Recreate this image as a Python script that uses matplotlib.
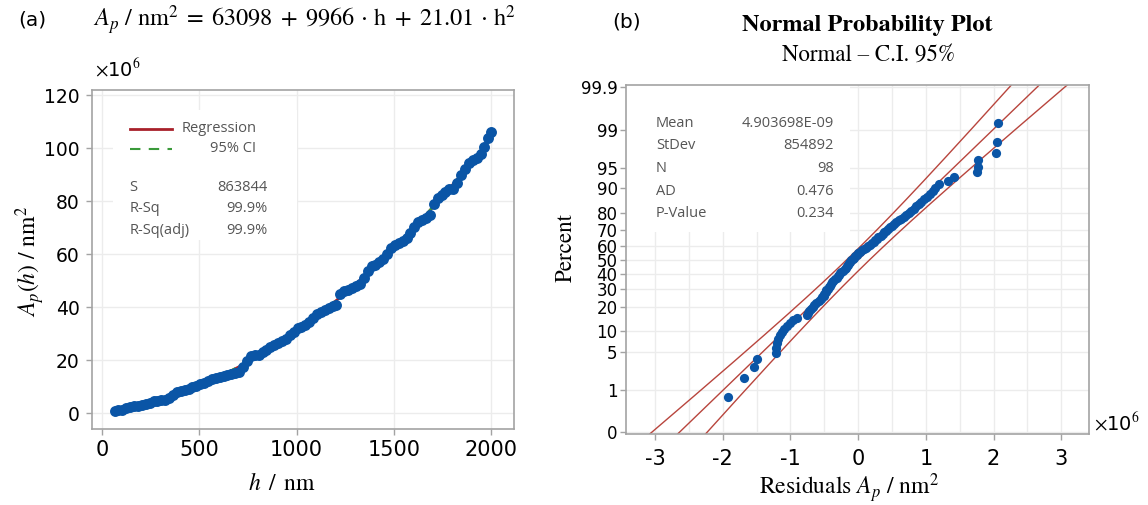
import numpy as np
import matplotlib
matplotlib.use("Agg")
import matplotlib.pyplot as plt
from matplotlib.patches import Rectangle
from statistics import NormalDist

plt.rcParams["font.family"] = ["DejaVu Sans"]
plt.rcParams["mathtext.fontset"] = "stix"
plt.rcParams["axes.unicode_minus"] = False

# (a) indentation depth h (nm) vs projected area A_p (x10^6 nm^2)
h_nm = [65, 85, 105, 125, 145, 165, 185, 205, 225, 245,
        265, 285, 305, 325, 345, 365, 385, 405, 425, 445,
        465, 485, 505, 525, 545, 565, 585, 605, 625, 645,
        665, 685, 705, 725, 745, 765, 785, 805, 825, 845,
        865, 885, 905, 925, 945, 965, 985, 1005, 1025, 1045,
        1065, 1085, 1105, 1125, 1145, 1165, 1185, 1205, 1225, 1245,
        1265, 1285, 1305, 1325, 1345, 1365, 1385, 1405, 1425, 1445,
        1465, 1485, 1505, 1525, 1545, 1565, 1585, 1605, 1625, 1645,
        1665, 1685, 1705, 1725, 1745, 1765, 1785, 1805, 1825, 1845,
        1865, 1885, 1905, 1925, 1945, 1965, 1985, 2000]
area = [0.80, 1.26, 1.24, 1.94, 2.15, 2.68, 2.73, 2.99, 3.27, 3.87,
        4.48, 4.61, 4.86, 5.12, 5.70, 6.70, 8.01, 8.45, 8.69, 9.06,
        9.84, 10.14, 10.95, 11.49, 11.94, 12.90, 13.08, 13.48, 13.90, 14.33,
        14.78, 15.25, 15.63, 17.53, 19.75, 21.38, 21.93, 22.00, 23.08, 23.69,
        25.00, 25.74, 26.59, 27.26, 27.94, 29.45, 30.76, 32.00, 32.65, 33.42,
        34.31, 36.01, 37.33, 38.17, 39.02, 39.59, 40.28, 40.98, 44.90, 45.94,
        46.59, 47.16, 47.85, 48.85, 50.87, 53.71, 55.37, 56.04, 57.13, 58.03,
        60.16, 62.40, 63.65, 64.22, 64.91, 66.02, 68.14, 70.38, 72.34, 72.91,
        73.70, 74.91, 78.93, 81.27, 82.43, 83.50, 84.50, 84.60, 87.03, 89.77,
        92.23, 94.30, 95.49, 96.50, 97.83, 100.37, 103.93, 106.03]
coef = [21.01, 9966, 63098]      # h^2, h, const (nm^2)
fit_stats = [("S", "863844"), ("R-Sq", "99.9%"), ("R-Sq(adj)", "99.9%")]

# (b) residuals (x10^6 nm^2), sorted
resid = [-1.92, -1.68, -1.54, -1.50, -1.22, -1.21, -1.20, -1.18, -1.16, -1.13,
         -1.10, -1.05, -1.01, -0.96, -0.91,
         -0.76, -0.74, -0.72, -0.69, -0.67, -0.65, -0.62, -0.58, -0.55,
         -0.53, -0.51, -0.50, -0.48, -0.47, -0.45, -0.43, -0.42, -0.40, -0.38, -0.37,
         -0.34, -0.32, -0.30, -0.28, -0.27, -0.25, -0.22, -0.20, -0.18, -0.17,
         -0.15, -0.13, -0.12, -0.10, -0.08, -0.06, -0.04, -0.02, 0.00, 0.03,
         0.06, 0.09, 0.12, 0.14, 0.17,
         0.20, 0.23, 0.25, 0.28, 0.30, 0.33, 0.36, 0.38, 0.41, 0.44,
         0.47, 0.50, 0.53, 0.56, 0.60, 0.63, 0.67, 0.71, 0.75, 0.78,
         0.82, 0.86, 0.90, 0.93, 0.97, 1.02, 1.06, 1.10, 1.14, 1.19,
         1.33, 1.42, 1.76, 1.77, 1.77, 2.03, 2.05, 2.07]
res_mean = 4.903698e-09
res_sd = 854892
res_n = 98
res_stats = [("Mean", "4.903698E-09"), ("StDev", "854892"), ("N", "98"),
             ("AD", "0.476"), ("P-Value", "0.234")]
pct_ticks = [0.1, 1, 5, 10, 20, 30, 40, 50, 60, 70, 80, 90, 95, 99, 99.9]
pct_labels = ["0", "1", "5", "10", "20", "30", "40", "50", "60", "70",
              "80", "90", "95", "99", "99.9"]

blue = "#0a55a6"
frame = "#a3a3a3"
gridc = "#ececec"
statc = "#555555"
serif = "STIXGeneral"
stat_font = "Open Sans"

W, H = 1148, 505
fig = plt.figure(figsize=(W / 100, H / 100), dpi=100)


def box(l, t, r, b):
    return [l / W, 1 - b / H, (r - l) / W, (b - t) / H]


def style(ax):
    for s in ax.spines.values():
        s.set_color(frame)
        s.set_linewidth(1.2)
    ax.grid(True, color=gridc, lw=1)
    ax.set_axisbelow(True)
    ax.tick_params(color=frame, length=4, width=1)


# ---- (a) ----
axa = fig.add_axes(box(92, 90, 514, 429))
style(axa)
hh = np.linspace(min(h_nm), max(h_nm), 300)
fit = np.polyval(coef, hh) / 1e6
axa.plot(hh, fit, color="#a8202a", lw=2, zorder=2)
axa.plot(hh, fit + 0.3, color="#3a9a3a", lw=1.2, ls=(0, (5, 4)), zorder=2)
axa.plot(hh, fit - 0.3, color="#3a9a3a", lw=1.2, ls=(0, (5, 4)), zorder=2)
axa.scatter(h_nm, area, s=62, color=blue, lw=0, zorder=3)
axa.set_xlim(-51, 2117)
axa.set_ylim(-6, 122)
axa.set_xticks([0, 500, 1000, 1500, 2000])
axa.set_yticks(range(0, 121, 20))
axa.tick_params(axis="x", labelsize=15, pad=4)
axa.tick_params(axis="y", labelsize=13.5, pad=5)

axa.add_patch(Rectangle((0.05, 0.557), 0.436, 0.384, transform=axa.transAxes,
                        facecolor="white", edgecolor="none", zorder=1.5))
axa.plot([0.09, 0.19], [0.885, 0.885], transform=axa.transAxes, color="#a8202a", lw=2, zorder=4)
axa.plot([0.09, 0.19], [0.826, 0.826], transform=axa.transAxes, color="#3a9a3a", lw=1.5,
         ls=(0, (5, 4)), zorder=4)
axa.text(0.389, 0.885, "Regression", transform=axa.transAxes, ha="right", va="center",
         fontsize=10.5, color=statc, family=stat_font)
axa.text(0.389, 0.826, "95% CI", transform=axa.transAxes, ha="right", va="center",
         fontsize=10.5, color=statc, family=stat_font)
for i, (k, v) in enumerate(fit_stats):
    y = 0.711 - i * 0.062
    axa.text(0.088, y, k, transform=axa.transAxes, va="center", fontsize=10.5,
             color=statc, family=stat_font)
    axa.text(0.417, y, v, transform=axa.transAxes, ha="right", va="center",
             fontsize=10.5, color=statc, family=stat_font)

fig.text(18 / W, 1 - 20 / H, "(a)", fontsize=14.5, va="center")
fig.text(93 / W, 1 - 20 / H,
         r"$A_p\ /\ \mathrm{nm}^2\;=\;63098\;+\;9966\,\cdot\,\mathrm{h}\;+\;21.01\,\cdot\,\mathrm{h}^2$",
         fontsize=17.5, va="center")
fig.text(95 / W, 1 - 69 / H, r"$\times$10$^6$", fontsize=14, va="center")
fig.text(282 / W, 1 - 483 / H, r"$h\ \,/\ \,\mathrm{nm}$", fontsize=17, ha="center", va="center")
fig.text(30 / W, 1 - 262 / H, r"$A_p(h)\ /\ \mathrm{nm}^2$", fontsize=17, ha="center",
         va="center", rotation=90)

# ---- (b) ----
axb = fig.add_axes(box(626, 85, 1089, 434))
style(axb)
nd = NormalDist()
z_pts = [nd.inv_cdf((i + 1 - 0.3) / (res_n + 0.4)) for i in range(res_n)]
zz = np.linspace(-3.3, 3.3, 200)
mu = res_mean / 1e6
sd = res_sd / 1e6
mid = mu + sd * zz
se = sd * np.sqrt(1 / res_n + zz ** 2 / (2 * (res_n - 1)))
for line in (mid - 1.96 * se, mid, mid + 1.96 * se):
    axb.plot(line, zz, color="#b8453d", lw=1, zorder=2)
axb.scatter(resid, z_pts, s=44, color=blue, lw=0, zorder=3)
axb.set_xlim(-3.43, 3.41)
axb.set_ylim(-3.12, 3.13)
axb.set_xticks(range(-3, 4))
axb.set_xticks(np.arange(-3.0, 3.1, 0.5), minor=True)
axb.grid(True, which="minor", axis="x", color=gridc, lw=1)
axb.tick_params(which="minor", length=0)
axb.set_yticks([nd.inv_cdf(p / 100) for p in pct_ticks])
axb.set_yticklabels(pct_labels)
axb.tick_params(axis="x", labelsize=15, pad=7)
axb.tick_params(axis="y", labelsize=12, pad=2)

axb.add_patch(Rectangle((0, 0.579), 0.484, 0.421, transform=axb.transAxes,
                        facecolor="white", edgecolor="none", zorder=1.5))
for i, (k, v) in enumerate(res_stats):
    y = 0.891 - i * 0.065
    axb.text(0.065, y, k, transform=axb.transAxes, va="center", fontsize=10.5,
             color=statc, family=stat_font)
    axb.text(0.449, y, v, transform=axb.transAxes, ha="right", va="center",
             fontsize=10.5, color=statc, family=stat_font)

fig.text(627 / W, 1 - 22 / H, "(b)", fontsize=14.5, ha="center", va="center")
fig.text(867 / W, 1 - 25 / H, "Normal Probability Plot", fontsize=17.5, ha="center",
         va="center", family=serif, weight="bold")
fig.text(868 / W, 1 - 55 / H, "Normal \u2013 C.I. 95%", fontsize=16.5, ha="center",
         va="center", family=serif)
fig.text(566 / W, 1 - 247 / H, "Percent", fontsize=16.5, ha="center", va="center",
         rotation=90, family=serif)
fig.text(849 / W, 1 - 488 / H, r"Residuals $A_p\ /\ \mathrm{nm}^2$", fontsize=17,
         ha="center", va="center", family=serif)
fig.text(1094 / W, 1 - 423 / H, r"$\times$10$^6$", fontsize=14, va="center")

fig.savefig("out.png", dpi=100)
